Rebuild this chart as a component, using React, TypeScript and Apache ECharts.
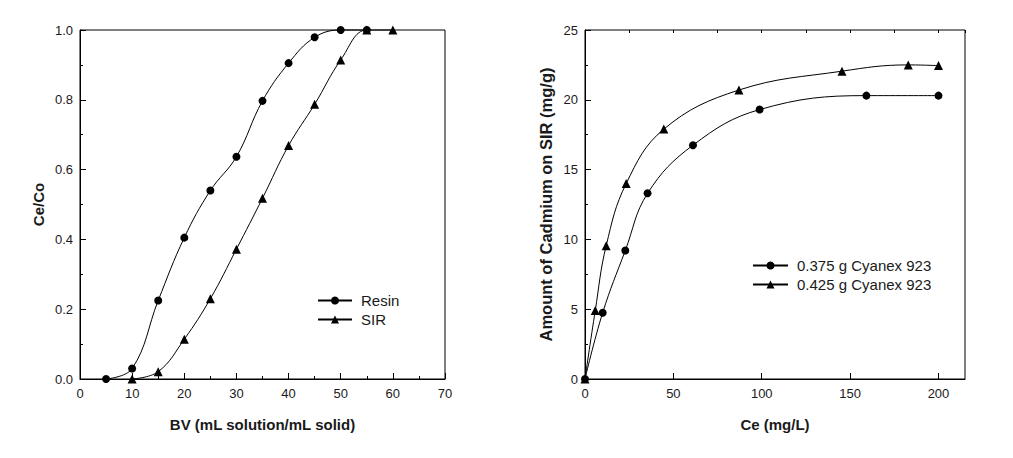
import React, { useEffect, useRef } from "react";
import * as echarts from "echarts";

// Left panel: breakthrough curves
const resinBV = [5, 10, 15, 20, 25, 30, 35, 40, 45, 50, 55];
const resinCeCo = [0, 0.03, 0.225, 0.405, 0.54, 0.637, 0.797, 0.905, 0.979, 1.0, 1.0];
const sirBV = [10, 15, 20, 25, 30, 35, 40, 45, 50, 55, 60];
const sirCeCo = [0, 0.021, 0.114, 0.23, 0.372, 0.518, 0.669, 0.787, 0.914, 1.0, 1.0];

// Right panel: isotherms
const cy375Ce = [0, 10, 22.8, 35.4, 61.1, 98.8, 159.2, 200];
const cy375Q = [0, 4.75, 9.2, 13.3, 16.75, 19.3, 20.3, 20.3];
const cy425Ce = [0, 5.8, 12, 23.3, 44.6, 87.1, 145.4, 182.9, 200];
const cy425Q = [0, 4.9, 9.55, 14.0, 17.9, 20.7, 22.05, 22.5, 22.45];

const leftNames = ["Resin", "SIR"];
const rightNames = ["0.375 g Cyanex 923", "0.425 g Cyanex 923"];

const FONT = "'Liberation Sans', Arial, sans-serif";
const INK = "#1a1a1a";

const zip = (xs: number[], ys: number[]) => xs.map((x, i) => [x, ys[i]]);

export default function App() {
  const ref = useRef<HTMLDivElement>(null);
  useEffect(() => {
    if (!ref.current) return;
    const chart = echarts.init(ref.current, undefined, { renderer: "svg" });
    const axisLine = { show: true, lineStyle: { color: "#000", width: 1 } };
    const majorTick = { show: true, inside: true, length: 6, lineStyle: { color: "#000", width: 1 } };
    const minorTick = { show: true, splitNumber: 2, length: 3, lineStyle: { color: "#000", width: 1 } };
    const labelStyle = { color: INK, fontSize: 13, fontFamily: FONT };
    const nameStyle = { color: INK, fontSize: 15, fontWeight: "bold" as const, fontFamily: FONT };
    const legendText = { color: INK, fontSize: 15, fontFamily: FONT, padding: [0, 0, 0, 4] };
    const lineSeries = (
      name: string,
      data: number[][],
      symbol: string,
      size: number,
      xAxisIndex: number,
      yAxisIndex: number
    ) => ({
      type: "line",
      name,
      data,
      xAxisIndex,
      yAxisIndex,
      smooth: 0.4,
      symbol,
      symbolSize: size,
      showSymbol: true,
      lineStyle: { color: "#000", width: 1 },
      itemStyle: { color: "#000", borderWidth: 0 },
      clip: false,
      z: 3,
    });
    chart.setOption({
      animation: false,
      backgroundColor: "#fff",
      grid: [
        { left: 80, right: 568, top: 30, height: 349, show: true, borderColor: "#000", borderWidth: 1, backgroundColor: "transparent" },
        { left: 585, right: 48, top: 30, height: 349, show: true, borderColor: "#000", borderWidth: 1, backgroundColor: "transparent" },
      ],
      legend: [
        {
          data: leftNames,
          orient: "vertical",
          left: 317,
          top: 293,
          padding: 0,
          itemWidth: 34,
          itemHeight: 10,
          itemGap: 4,
          textStyle: legendText,
          selectedMode: false,
        },
        {
          data: rightNames,
          orient: "vertical",
          left: 752,
          top: 258,
          padding: 0,
          itemWidth: 35,
          itemHeight: 10,
          itemGap: 4,
          textStyle: legendText,
          selectedMode: false,
        },
      ],
      xAxis: [
        {
          type: "value",
          gridIndex: 0,
          min: 0,
          max: 70,
          interval: 10,
          name: "BV (mL solution/mL solid)",
          nameLocation: "middle",
          nameGap: 38,
          nameTextStyle: nameStyle,
          axisLine,
          axisTick: majorTick,
          minorTick,
          splitLine: { show: false },
          axisLabel: { ...labelStyle, margin: 8 },
        },
        {
          type: "value",
          gridIndex: 1,
          min: 0,
          max: 215,
          interval: 50,
          name: "Ce (mg/L)",
          nameLocation: "middle",
          nameGap: 38,
          nameTextStyle: nameStyle,
          axisLine,
          axisTick: majorTick,
          splitLine: { show: false },
          axisLabel: {
            ...labelStyle,
            margin: 8,
            showMaxLabel: false,
            formatter: (v: number) => (v % 50 === 0 ? String(v) : ""),
          },
        },
        {
          type: "value",
          gridIndex: 1,
          min: 0,
          max: 215,
          interval: 25,
          axisLine: { show: false },
          axisTick: { show: true, inside: true, length: 3, lineStyle: { color: "#000", width: 1 } },
          splitLine: { show: false },
          axisLabel: { show: false },
        },
      ],
      yAxis: [
        {
          type: "value",
          gridIndex: 0,
          min: 0,
          max: 1,
          interval: 0.2,
          name: "Ce/Co",
          nameLocation: "middle",
          nameGap: 34,
          nameTextStyle: nameStyle,
          axisLine,
          axisTick: majorTick,
          minorTick,
          splitLine: { show: false },
          axisLabel: { ...labelStyle, margin: 7, formatter: (v: number) => v.toFixed(1) },
        },
        {
          type: "value",
          gridIndex: 1,
          min: 0,
          max: 25,
          interval: 5,
          name: "Amount of Cadmium on SIR (mg/g)",
          nameLocation: "middle",
          nameGap: 31,
          nameTextStyle: { ...nameStyle, fontSize: 16.5 },
          axisLine,
          axisTick: majorTick,
          minorTick,
          splitLine: { show: false },
          axisLabel: { ...labelStyle, margin: 7 },
        },
      ],
      series: [
        lineSeries(leftNames[0], zip(resinBV, resinCeCo), "circle", 8, 0, 0),
        lineSeries(leftNames[1], zip(sirBV, sirCeCo), "triangle", 9, 0, 0),
        lineSeries(rightNames[0], zip(cy375Ce, cy375Q), "circle", 8, 1, 1),
        lineSeries(rightNames[1], zip(cy425Ce, cy425Q), "triangle", 9, 1, 1),
      ],
    });
    return () => chart.dispose();
  }, []);
  return (
    <div
      ref={ref}
      style={{ position: "absolute", left: 0, top: 0, width: 1013, height: 458, background: "#fff" }}
    />
  );
}
